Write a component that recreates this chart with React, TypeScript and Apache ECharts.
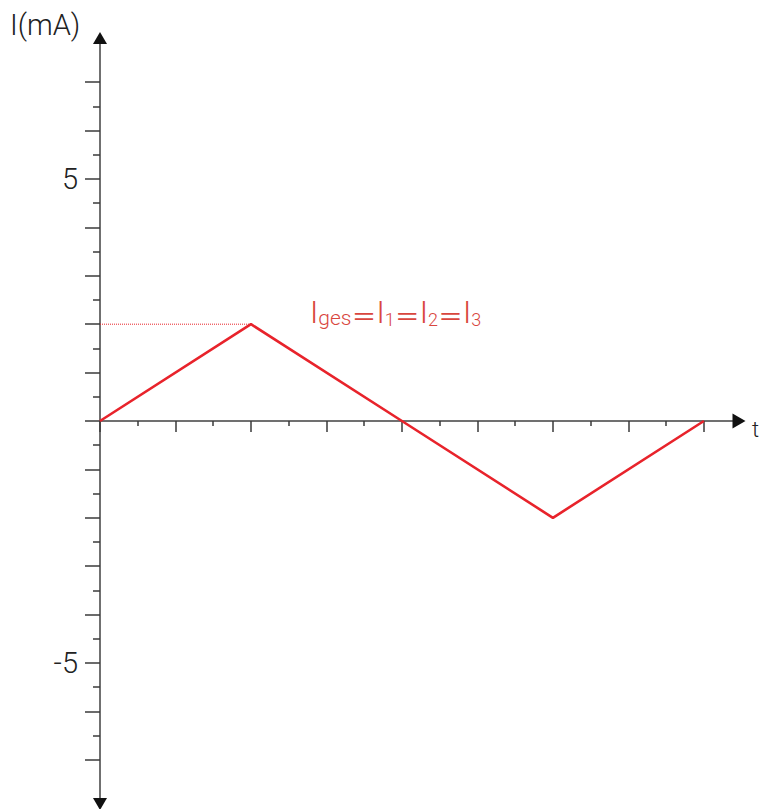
import React, { useEffect, useRef } from "react";
import * as echarts from "echarts";

// Triangular current waveform I(t)
const timePoints = [0, 4, 8, 12, 16];
const currentValues = [0, 2, 0, -2, 0];

// Dotted guide marking the peak value
const guideTimes = [0, 4];
const guideValues = [2, 2];

// Tick positions
const yMajorTicks = [-7, -6, -5, -4, -3, -2, -1, 0, 1, 2, 3, 4, 5, 6, 7];
const yMinorTicks = [-6.5, -5.5, -4.5, -3.5, -2.5, -1.5, -0.5, 0.5, 1.5, 2.5, 3.5, 4.5, 5.5, 6.5];
const yLabelValues = [-5, 5];
const xMajorTicks = [0, 2, 4, 6, 8, 10, 12, 14, 16];
const xMinorTicks = [1, 3, 5, 7, 9, 11, 13, 15];

const Y_MIN = -7.913;
const Y_MAX = 7.913;
const X_MIN = 0;
const X_MAX = 16.93;

const FONT = "Roboto";
const AXIS_GREY = "#707070";
const TICK_DARK = "#3a3a3a";
const ARROW = "#111";
const RED = "#e8232b";
const LABEL_RED = "#d9463e";

export default function App() {
  const ref = useRef<HTMLDivElement>(null);

  useEffect(() => {
    if (!ref.current) return;
    const chart = echarts.init(ref.current, null, { renderer: "svg" });

    const baseX = { type: "value", min: X_MIN, max: X_MAX, position: "bottom", splitLine: { show: false } };
    const baseY = { type: "value", min: Y_MIN, max: Y_MAX, position: "left", splitLine: { show: false } };

    chart.setOption({
      animation: false,
      grid: { left: 100, right: 22, top: 38, bottom: 5, containLabel: false },
      xAxis: [
        {
          ...baseX,
          axisLine: { show: true, onZero: true, lineStyle: { color: AXIS_GREY, width: 2 } },
          axisTick: { show: true, customValues: xMajorTicks, length: 11, lineStyle: { color: TICK_DARK, width: 1.5 } },
          axisLabel: { show: false },
        },
        {
          // minor ticks plus the black arrow head
          ...baseX,
          axisLine: {
            show: true,
            onZero: true,
            symbol: ["none", "triangle"],
            symbolSize: [15, 13],
            lineStyle: { color: ARROW, width: 1, opacity: 0 },
          },
          axisTick: { show: true, customValues: xMinorTicks, length: 5, lineStyle: { color: TICK_DARK, width: 1.5 } },
          axisLabel: { show: false },
        },
      ],
      yAxis: [
        {
          ...baseY,
          axisLine: { show: true, lineStyle: { color: AXIS_GREY, width: 2 } },
          axisTick: { show: true, customValues: yMajorTicks, length: 15, lineStyle: { color: TICK_DARK, width: 1.5 } },
          axisLabel: {
            show: true,
            customValues: yLabelValues,
            margin: 22,
            fontSize: 29,
            fontFamily: FONT,
            fontWeight: 300,
            color: "#222",
          },
        },
        {
          // minor ticks plus the black arrow heads
          ...baseY,
          axisLine: {
            show: true,
            symbol: ["triangle", "triangle"],
            symbolSize: [14, 12],
            lineStyle: { color: ARROW, width: 1, opacity: 0 },
          },
          axisTick: { show: true, customValues: yMinorTicks, length: 7, lineStyle: { color: TICK_DARK, width: 1.5 } },
          axisLabel: { show: false },
        },
      ],
      series: [
        {
          type: "line",
          data: guideTimes.map((t, i) => [t, guideValues[i]]),
          symbol: "none",
          lineStyle: { color: RED, width: 1, type: "dotted" },
          z: 3,
        },
        {
          type: "line",
          data: timePoints.map((t, i) => [t, currentValues[i]]),
          symbol: "none",
          lineStyle: { color: RED, width: 2.6 },
          z: 4,
        },
      ],
      graphic: [
        {
          type: "text",
          left: 10,
          top: 10,
          style: { text: "I(mA)", fontSize: 29, fontFamily: FONT, fontWeight: 300, fill: "#222" },
        },
        {
          type: "text",
          left: 752,
          top: 418,
          style: { text: "t", fontSize: 22, fontFamily: FONT, fontWeight: 300, fill: "#222" },
        },
        {
          type: "text",
          left: 310,
          top: 297,
          style: {
            text: "{b|I}{s|ges}{e|＝}{b|I}{d|1}{e|＝}{b|I}{d|2}{e|＝}{b|I}{d|3}",
            fill: LABEL_RED,
            rich: {
              b: { fontSize: 31, fontFamily: FONT, fontWeight: 300, fill: LABEL_RED, lineHeight: 36, verticalAlign: "bottom" },
              s: { fontSize: 21, fontFamily: FONT, fontWeight: 300, fill: LABEL_RED, lineHeight: 36, verticalAlign: "bottom" },
              d: { fontSize: 18, fontFamily: FONT, fontWeight: 300, fill: LABEL_RED, lineHeight: 36, verticalAlign: "bottom" },
              e: { fontSize: 25, fontFamily: "Noto Sans CJK SC", fill: LABEL_RED, lineHeight: 36, verticalAlign: "bottom" },
            },
          },
        },
      ],
    });

    return () => chart.dispose();
  }, []);

  return (
    <div
      ref={ref}
      style={{ position: "fixed", left: 0, top: 0, width: 761, height: 809, background: "#fff" }}
    />
  );
}
